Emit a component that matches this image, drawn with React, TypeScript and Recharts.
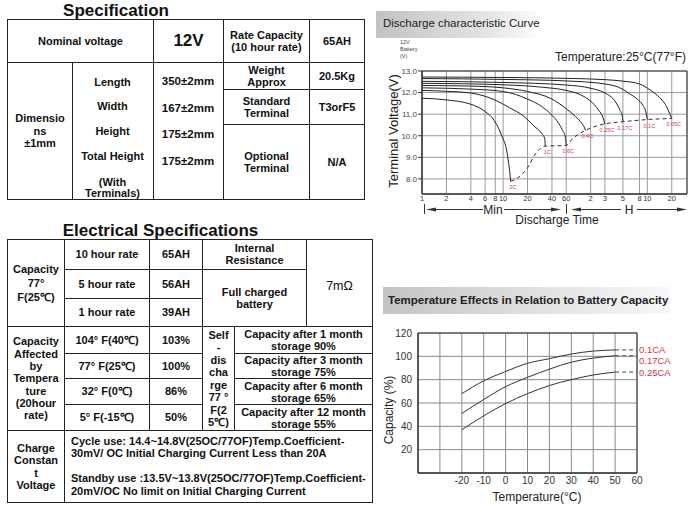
import React from "react";
import { LineChart, Line, XAxis, YAxis, CartesianGrid, ReferenceArea, LabelList } from "recharts";

const FONT = '"Liberation Sans", Arial, Helvetica, sans-serif';

// discharge chart: time in minutes (120+ shown as hours)
const timeTicks = [1, 2, 4, 6, 8, 10, 20, 40, 60, 120, 180, 300, 480, 600, 1200];
const voltTicks = [8, 9, 10, 11, 12, 13];

// [minutes, volts]
const c005 = [[1, 12.72], [10, 12.7], [60, 12.66], [180, 12.6], [300, 12.53], [480, 12.4], [650, 12.12], [850, 11.77], [1000, 11.45], [1140, 11.0], [1200, 10.8]];
const c01 = [[1, 12.65], [10, 12.61], [60, 12.54], [180, 12.4], [300, 12.15], [360, 11.95], [450, 11.7], [525, 11.42], [580, 11.05], [600, 10.75]];
const c017 = [[1, 12.52], [10, 12.47], [60, 12.35], [120, 12.2], [180, 11.98], [240, 11.6], [275, 11.2], [295, 10.9], [300, 10.65]];
const c025 = [[1, 12.43], [10, 12.36], [30, 12.25], [60, 12.1], [90, 11.9], [120, 11.6], [150, 11.2], [170, 10.85], [180, 10.55]];
const c04 = [[1, 12.33], [4, 12.3], [10, 12.22], [20, 12.05], [40, 11.7], [60, 11.25], [75, 10.95], [90, 10.65], [100, 10.4], [104, 10.25]];
const c06 = [[1, 12.22], [2, 12.2], [4, 12.16], [10, 12.05], [20, 11.7], [30, 11.35], [40, 10.95], [48, 10.6], [54, 10.25], [58.5, 9.95], [60, 9.55]];
const c1 = [[1, 12.1], [2, 12.06], [4, 11.98], [8, 11.65], [12, 11.3], [18, 10.9], [24, 10.45], [30, 10.1], [32.7, 9.85], [33, 9.52]];
const c2 = [[1, 11.74], [2, 11.66], [4, 11.46], [6, 11.12], [7.8, 10.7], [10, 9.85], [10.8, 9.5], [12, 8.4], [12.4, 7.89]];

// end-of-discharge (dashed) line
const cutT = [12.4, 15, 20, 25, 29, 33, 60, 72, 104, 180, 300, 600, 1200];
const cutV = [7.89, 8.03, 8.52, 9.15, 9.42, 9.52, 9.55, 9.87, 10.25, 10.55, 10.65, 10.75, 10.8];
const cutRate = ["2C", "", "", "", "", "1C", "0.6C", "", "0.4C", "0.25C", "0.17C", "0.1C", "0.05C"];

// temperature chart
const tempTicks = [-40, -30, -20, -10, 0, 10, 20, 30, 40, 50, 60];
const capTicks = [0, 20, 40, 60, 80, 100, 120];
const tempC = [-20, -10, 0, 10, 20, 30, 40, 50];
const cap01 = [68, 79, 87, 94, 98, 102, 104.5, 105.5];
const cap017 = [51, 63, 74, 82, 89, 95, 98.5, 100.5];
const cap025 = [37, 49, 59.5, 68, 75, 80, 84, 86.5];
const cap60 = [105.5, 100.5, 86.5]; // dashed end at 60°C
const caNames = ["0.1CA", "0.17CA", "0.25CA"];

const pts = (arr: number[][]) => arr.map(([t, v]) => ({ t, v }));
const curves = [c005, c01, c017, c025, c04, c06, c1, c2].map(pts);
const cutoff = cutT.map((t, i) => ({ t, v: cutV[i], rate: cutRate[i] }));
const tempRows = tempC.map((temp, i) => ({ temp, a: cap01[i], b: cap017[i], c: cap025[i] }));
const solidCaps = [cap01, cap017, cap025];
const extensions = solidCaps.map((arr, i) => [
  { temp: 50, v: arr[arr.length - 1], name: "" },
  { temp: 60, v: cap60[i], name: caNames[i] },
]);

function T({ x, y, size = 11, weight = 700, anchor = "middle", rotate = 0, color = "#111", children }: any) {
  const tx = anchor === "start" ? "0" : "-50%";
  return (
    <div
      style={{
        position: "absolute",
        left: x,
        top: y,
        fontSize: size,
        fontWeight: weight,
        color,
        lineHeight: 1,
        whiteSpace: "nowrap",
        transform: `translate(${tx},-50%)${rotate ? ` rotate(${rotate}deg)` : ""}`,
      }}
    >
      {children}
    </div>
  );
}

function Box({ x0, y0, x1, y1, children, style }: any) {
  return (
    <div
      style={{
        position: "absolute",
        left: x0,
        top: y0,
        width: x1 - x0 + 1,
        height: y1 - y0 + 1,
        border: "1px solid #222",
        boxSizing: "border-box",
        display: "flex",
        alignItems: "center",
        justifyContent: "center",
        textAlign: "center",
        whiteSpace: "pre-line",
        fontWeight: 700,
        fontSize: 11,
        lineHeight: "12.5px",
        ...style,
      }}
    >
      {children}
    </div>
  );
}

function SpecTable() {
  return (
    <>
      <T x={116} y={9.5} size={17}>Specification</T>
      <Box x0={7} y0={19} x1={153} y1={62}>Nominal voltage</Box>
      <Box x0={153} y0={19} x1={223} y1={62} style={{ fontSize: 17 }}>12V</Box>
      <Box x0={223} y0={19} x1={309} y1={62}>{"Rate Capacity\n(10 hour rate)"}</Box>
      <Box x0={309} y0={19} x1={364} y1={62}>65AH</Box>
      <Box x0={7} y0={62} x1={72} y1={199}>{"Dimensio\nns\n±1mm"}</Box>
      <Box x0={72} y0={62} x1={153} y1={199} />
      <Box x0={153} y0={62} x1={223} y1={199} />
      <Box x0={223} y0={62} x1={309} y1={89}>{"Weight\nApprox"}</Box>
      <Box x0={309} y0={62} x1={364} y1={89}>20.5Kg</Box>
      <Box x0={223} y0={89} x1={309} y1={124}>{"Standard\nTerminal"}</Box>
      <Box x0={309} y0={89} x1={364} y1={124}>T3orF5</Box>
      <Box x0={223} y0={124} x1={309} y1={199}>{"Optional\nTerminal"}</Box>
      <Box x0={309} y0={124} x1={364} y1={199}>N/A</Box>
      <T x={112.5} y={81.7}>Length</T>
      <T x={112.5} y={106.3}>Width</T>
      <T x={112.5} y={131}>Height</T>
      <T x={112.5} y={156.3}>Total Height</T>
      <T x={112.5} y={181.7}>(With</T>
      <T x={112.5} y={193.3}>Terminals)</T>
      <T x={188} y={81.7} size={11.5}>350±2mm</T>
      <T x={188} y={109.3} size={11.5}>167±2mm</T>
      <T x={188} y={135} size={11.5}>175±2mm</T>
      <T x={188} y={161.7} size={11.5}>175±2mm</T>
    </>
  );
}

function ElectricalTable() {
  return (
    <>
      <T x={160.5} y={229.5} size={17}>Electrical Specifications</T>
      <Box x0={7} y0={239} x1={64} y1={326} style={{ lineHeight: "14px" }}>{"Capacity\n77°\nF(25℃)"}</Box>
      <Box x0={64} y0={239} x1={149} y1={269}>10 hour rate</Box>
      <Box x0={149} y0={239} x1={202} y1={269}>65AH</Box>
      <Box x0={64} y0={269} x1={149} y1={298}>5 hour rate</Box>
      <Box x0={149} y0={269} x1={202} y1={298}>56AH</Box>
      <Box x0={64} y0={298} x1={149} y1={326}>1 hour rate</Box>
      <Box x0={149} y0={298} x1={202} y1={326}>39AH</Box>
      <Box x0={202} y0={239} x1={306} y1={269} style={{ lineHeight: "11.7px" }}>{"Internal\nResistance"}</Box>
      <Box x0={202} y0={269} x1={306} y1={326}>{"Full charged\nbattery"}</Box>
      <Box x0={306} y0={239} x1={372} y1={326} style={{ fontSize: 12.5, fontWeight: 400, paddingTop: 6 }}>7mΩ</Box>

      <Box x0={7} y0={326} x1={64} y1={430} style={{ lineHeight: "12.3px" }}>
        {"Capacity\nAffected\nby\nTempera\nture\n(20hour\nrate)"}
      </Box>
      <Box x0={64} y0={326} x1={149} y1={353}>104° F(40℃)</Box>
      <Box x0={149} y0={326} x1={202} y1={353}>103%</Box>
      <Box x0={64} y0={353} x1={149} y1={378}>77° F(25℃)</Box>
      <Box x0={149} y0={353} x1={202} y1={378}>100%</Box>
      <Box x0={64} y0={378} x1={149} y1={404}>32° F(0℃)</Box>
      <Box x0={149} y0={378} x1={202} y1={404}>86%</Box>
      <Box x0={64} y0={404} x1={149} y1={430}>5° F(-15℃)</Box>
      <Box x0={149} y0={404} x1={202} y1={430}>50%</Box>
      <Box x0={202} y0={326} x1={234} y1={430} style={{ lineHeight: "12.5px" }}>
        {"Self\n-\ndis\ncha\nrge\n77 °\nF(2\n5℃)"}
      </Box>
      <Box x0={234} y0={326} x1={372} y1={353} style={{ lineHeight: "12px" }}>{"Capacity after 1 month\nstorage 90%"}</Box>
      <Box x0={234} y0={353} x1={372} y1={378} style={{ lineHeight: "12px" }}>{"Capacity after 3 month\nstorage 75%"}</Box>
      <Box x0={234} y0={378} x1={372} y1={404} style={{ lineHeight: "12px" }}>{"Capacity after 6 month\nstorage 65%"}</Box>
      <Box x0={234} y0={404} x1={372} y1={430} style={{ lineHeight: "12px" }}>{"Capacity after 12 month\nstorage 55%"}</Box>

      <Box x0={7} y0={430} x1={64} y1={502}>{"Charge\nConstan\nt\nVoltage"}</Box>
      <Box
        x0={64}
        y0={430}
        x1={372}
        y1={502}
        style={{ alignItems: "flex-start", justifyContent: "flex-start", textAlign: "left", paddingLeft: 6, paddingTop: 4, lineHeight: "12.4px" }}
      >
        {"Cycle use: 14.4~14.8V(25OC/77OF)Temp.Coefficient-\n30mV/ OC  Initial Charging Current Less than 20A\n\u00a0\nStandby use :13.5V~13.8V(25OC/77OF)Temp.Coefficient-\n20mV/OC  No limit on Initial Charging Current"}
      </Box>
    </>
  );
}

const RateLabel = (props: any) => {
  const { x, y, value } = props;
  if (!value) return null;
  return (
    <text x={x + 2} y={y + 8} fontSize={5.5} fill="#d23c48" textAnchor="middle" fontFamily={FONT}>
      {value}
    </text>
  );
};

const caLabel = (dy: number) => (props: any) => {
  const { x, y, value } = props;
  if (!value) return null;
  return (
    <text x={x + 2} y={y + dy} fontSize={9.5} fill="#e0343c" dominantBaseline="central" fontFamily={FONT}>
      {value}
    </text>
  );
};

// minutes below 2 h, hours above
const TimeTick = (props: any) => {
  const { x, y, payload } = props;
  const t = payload.value;
  return (
    <text x={x} y={y} dy="0.71em" textAnchor="middle" fontSize={7.5} fill="#333" fontFamily={FONT}>
      {t >= 120 ? t / 60 : t}
    </text>
  );
};

function DischargeChart() {
  return (
    <>
      <div style={{ position: "absolute", left: 376, top: 11, width: 161, height: 27, background: "linear-gradient(90deg,#c2c2c2,#e2e2e2 65%,#fbfbfb)" }} />
      <T x={383} y={24} size={11.5} weight={400} anchor="start" color="#222">Discharge characteristic Curve</T>
      <T x={400} y={43} size={5.5} weight={400} anchor="start" color="#444">12V</T>
      <T x={400} y={50} size={5.5} weight={400} anchor="start" color="#444">Battery</T>
      <T x={400} y={57} size={5.5} weight={400} anchor="start" color="#444">(V)</T>
      <T x={555} y={57} size={12} weight={400} anchor="start" color="#222">Temperature:25°C(77°F)</T>
      <T x={393} y={131} size={13} weight={400} rotate={-90} color="#222">Terminal Voltage(V)</T>

      <div style={{ position: "absolute", left: 380, top: 40 }}>
        <LineChart width={316} height={190} margin={{ top: 31, right: 9, left: 0, bottom: 16 }}>
          <CartesianGrid stroke="#9a9a9a" />
          <XAxis
            dataKey="t"
            type="number"
            scale="log"
            domain={[1, 1850]}
            ticks={timeTicks}
            interval={0}
            allowDataOverflow
            tick={<TimeTick />}
            tickLine={false}
            tickSize={0}
            tickMargin={2}
            axisLine={{ stroke: "#333" }}
            height={20}
          />
          <YAxis
            type="number"
            domain={[7.3, 13]}
            ticks={voltTicks}
            interval={0}
            allowDataOverflow
            tickFormatter={(v: number) => v.toFixed(1)}
            tick={{ fontSize: 8, fill: "#444", fontFamily: FONT }}
            tickSize={4}
            tickMargin={1}
            tickLine={{ stroke: "#333" }}
            axisLine={{ stroke: "#333" }}
            width={42}
          />
          <ReferenceArea x1={1} x2={1850} y1={7.3} y2={13} fill="none" stroke="#333" />
          {curves.map((c, i) => (
            <Line key={i} data={c} dataKey="v" type="monotone" stroke="#222" strokeWidth={1} dot={false} activeDot={false} isAnimationActive={false} />
          ))}
          <Line data={cutoff} dataKey="v" type="monotone" stroke="#333" strokeWidth={1} strokeDasharray="4 3" dot={false} activeDot={false} isAnimationActive={false}>
            <LabelList dataKey="rate" content={RateLabel} />
          </Line>
        </LineChart>
      </div>

      <svg width={696} height={520} style={{ position: "absolute", left: 0, top: 0, pointerEvents: "none" }}>
        <g stroke="#333" strokeWidth={1} fill="#333">
          <line x1={424.5} y1={204} x2={424.5} y2={214} />
          <line x1={566.5} y1={204} x2={566.5} y2={214} />
          <line x1={430} y1={209.5} x2={483} y2={209.5} />
          <line x1={504} y1={209.5} x2={556} y2={209.5} />
          <polygon points="426,209.5 436,207.5 436,211.5" stroke="none" />
          <polygon points="561,209.5 551,207.5 551,211.5" stroke="none" />
          <line x1={575} y1={209.5} x2={621} y2={209.5} />
          <line x1={637} y1={209.5} x2={682} y2={209.5} />
          <polygon points="571,209.5 581,207.5 581,211.5" stroke="none" />
          <polygon points="687,209.5 677,207.5 677,211.5" stroke="none" />
        </g>
      </svg>
      <T x={493} y={210} size={12} weight={400} color="#222">Min</T>
      <T x={629} y={210} size={12} weight={400} color="#222">H</T>
      <T x={557} y={219.5} size={12} weight={400} color="#222">Discharge Time</T>
    </>
  );
}

function TemperatureChart() {
  return (
    <>
      <div style={{ position: "absolute", left: 383, top: 287, width: 287, height: 27, background: "linear-gradient(90deg,#c4c4c4,#e4e4e4 60%,#f8f8f8)" }} />
      <T x={388} y={300.5} size={11.5} weight={700} anchor="start" color="#222">Temperature Effects in Relation to Battery Capacity</T>
      <T x={389} y={410} size={12} weight={400} rotate={-90} color="#222">Capacity (%)</T>
      <T x={537} y={497} size={12} weight={400} color="#222">Temperature(°C)</T>

      <div style={{ position: "absolute", left: 380, top: 320 }}>
        <LineChart width={316} height={190} data={tempRows} margin={{ top: 13, right: 59, left: 0, bottom: 17 }}>
          <CartesianGrid stroke="#8a8a8a" />
          <XAxis
            dataKey="temp"
            type="number"
            domain={[-40, 60]}
            ticks={tempTicks}
            interval={0}
            tickFormatter={(v: number) => (v < -20 ? "" : String(v))}
            tick={{ fontSize: 10, fill: "#333", fontFamily: FONT }}
            tickLine={false}
            tickSize={0}
            tickMargin={4}
            axisLine={{ stroke: "#333" }}
            height={20}
          />
          <YAxis
            type="number"
            domain={[0, 120]}
            ticks={capTicks}
            interval={0}
            tickFormatter={(v: number) => (v === 0 ? "" : String(v))}
            tick={{ fontSize: 10, fill: "#333", fontFamily: FONT }}
            tickLine={false}
            tickSize={0}
            tickMargin={6}
            axisLine={{ stroke: "#333" }}
            width={38}
          />
          <ReferenceArea x1={-40} x2={60} y1={0} y2={120} fill="none" stroke="#333" />
          {["a", "b", "c"].map((k) => (
            <Line key={k} dataKey={k} type="monotone" stroke="#333" strokeWidth={1} dot={false} activeDot={false} isAnimationActive={false} />
          ))}
          {extensions.map((d, i) => (
            <Line key={"e" + i} data={d} dataKey="v" type="linear" stroke="#444" strokeWidth={1} strokeDasharray="4 3" dot={false} activeDot={false} isAnimationActive={false}>
              <LabelList dataKey="name" content={caLabel(i === 1 ? 5 : 0)} />
            </Line>
          ))}
        </LineChart>
      </div>
    </>
  );
}

export default function App() {
  return (
    <div
      style={{
        position: "absolute",
        left: 0,
        top: 0,
        width: 696,
        height: 520,
        background: "#fff",
        overflow: "hidden",
        fontFamily: FONT,
        color: "#111",
      }}
    >
      <SpecTable />
      <ElectricalTable />
      <DischargeChart />
      <TemperatureChart />
    </div>
  );
}
